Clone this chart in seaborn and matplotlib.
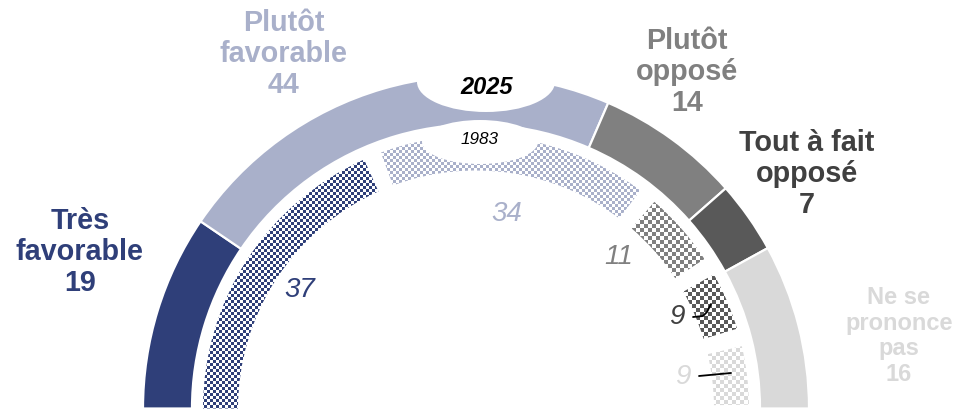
import numpy as np
import pandas as pd
import matplotlib
matplotlib.use("Agg")
import matplotlib.pyplot as plt
from matplotlib.patches import Wedge, Ellipse
from matplotlib.colors import to_rgba
import seaborn as sns

# ---------------- data ----------------
categories = ["Très favorable", "Plutôt favorable", "Plutôt opposé",
              "Tout à fait opposé", "Ne se prononce pas"]
label_lines = ["Très\nfavorable", "Plutôt\nfavorable", "Plutôt\nopposé",
               "Tout à fait\nopposé", "Ne se\nprononce\npas"]
values_2025 = [19, 44, 14, 7, 16]
values_1983 = [37, 34, 11, 9, 9]
years = ["2025", "1983"]

df = pd.DataFrame({"category": categories, "y2025": values_2025, "y1983": values_1983})

# ---------------- style ----------------
sns.set_theme(style="white")
plt.rcParams["font.family"] = ["Liberation Sans", "DejaVu Sans"]
palette = sns.color_palette(["#2f3f79", "#a9b0ca", "#808080", "#595959", "#d9d9d9"])
text_colors = ["#2f3f79", "#a9b0ca", "#808080", "#404040", "#d9d9d9"]
inner_text_colors = ["#2f3f79", "#a9b0ca", "#808080", "#404040", "#d9d9d9"]
checker_cells = [3, 3, 4, 4, 4]

W, H = 958, 409
fig = plt.figure(figsize=(W / 100, H / 100), dpi=100)
ax = fig.add_axes([0, 0, 1, 1])
ax.set_xlim(0, W)
ax.set_ylim(0, H)
ax.axis("off")

cx, cy = 476, 0.5
R_out, w_out = 333, 49
R_in, w_in = 273, 35

def to_angles(vals):
    tot = float(sum(vals))
    cum = np.concatenate([[0], np.cumsum(vals)]) / tot * 180.0
    return [(180 - cum[i + 1], 180 - cum[i]) for i in range(len(vals))]

# outer ring (2025)
for (t1, t2), col in zip(to_angles(df["y2025"]), palette):
    ax.add_patch(Wedge((cx, cy), R_out, t1, t2, width=w_out, facecolor=col,
                       edgecolor="white", linewidth=1.6, zorder=2))

# inner ring (1983) with checker texture
yy, xx = np.mgrid[0:H, 0:W]
for i, ((t1, t2), col) in enumerate(zip(to_angles(df["y1983"]), palette)):
    s = checker_cells[i]
    checker = (((xx // s) + (yy // s)) % 2).astype(bool)
    a1 = t1 + 0.8
    a2 = t2 - (3.0 if i > 0 else 0.0)
    wedge = Wedge((cx, cy), R_in, a1, a2, width=w_in, transform=ax.transData,
                  facecolor="none", edgecolor="none")
    img = np.ones((H, W, 4))
    img[checker] = to_rgba(col)
    im = ax.imshow(img, extent=(0, W, 0, H), origin="upper",
                   interpolation="nearest", zorder=2)
    im.set_clip_path(wedge)

ax.set_xlim(0, W)
ax.set_ylim(0, H)
ax.set_aspect("auto")

# year bubbles
ax.add_patch(Ellipse((486, H - 82), 138, 60, facecolor="white", edgecolor="none", zorder=3))
ax.add_patch(Ellipse((480, H - 142), 116, 44, facecolor="white", edgecolor="none", zorder=3))
ax.text(487, H - 88, years[0], fontsize=17, fontweight="bold", fontstyle="italic",
        color="black", ha="center", va="center", zorder=4)
ax.text(480, H - 140, years[1], fontsize=12.3, fontstyle="italic",
        color="black", ha="center", va="center", zorder=4)

# outer labels
outer_pos = [(80, 252), (284, 54), (687, 72), (807, 174), (899, 336)]
outer_size = [20.7, 20.7, 20.7, 20.7, 17]
for lab, v, (x, y), col, fs in zip(label_lines, df["y2025"], outer_pos, text_colors, outer_size):
    ax.text(x, H - y, f"{lab}\n{v}", fontsize=fs, fontweight="bold", color=col,
            ha="center", va="center", linespacing=1.15, zorder=4)

# inner labels
inner_pos = [(300, 290), (507, 214), (619, 257), (677, 317), (683, 377)]
for v, (x, y), col in zip(df["y1983"], inner_pos, inner_text_colors):
    ax.text(x, H - y, f"{v}", fontsize=20, fontstyle="italic", color=col,
            ha="center", va="center", zorder=4)

# leader lines
ax.plot([693, 703, 707, 711], [H - 317, H - 316, H - 312, H - 304], color="black", lw=1.3, zorder=5)
ax.plot([699, 731], [H - 376, H - 373], color="black", lw=1.3, zorder=5)

fig.savefig("out.png", dpi=100)
